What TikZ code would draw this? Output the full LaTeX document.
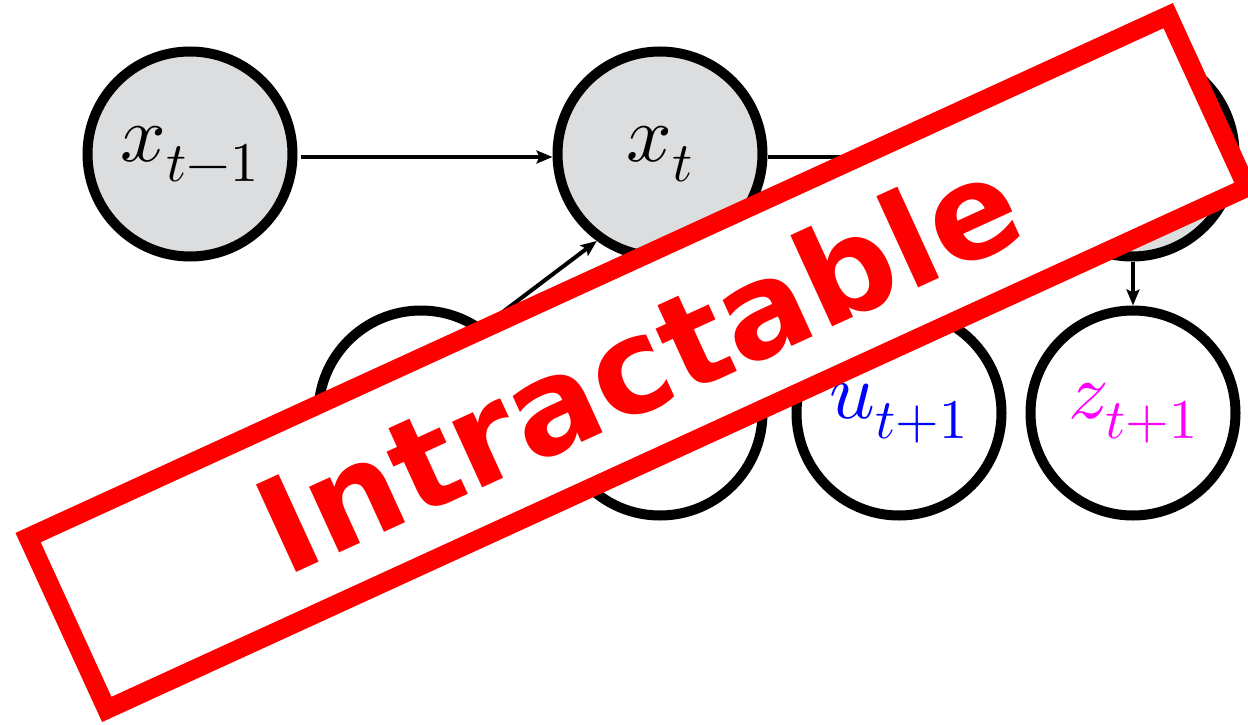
\documentclass[tikz,border=0pt]{standalone}
\usepackage{unicode-math}
\newfontfamily\stampfont{DejaVu Sans}
\usetikzlibrary{arrows.meta}
\definecolor{graynode}{HTML}{DCDDDF}
\definecolor{stampred}{HTML}{FF0000}
\definecolor{zmag}{RGB}{255,0,255}
\definecolor{ublue}{RGB}{0,0,255}
\begin{document}
\begin{tikzpicture}[x=1pt,y=-1pt,
  var/.style={circle, draw=black, line width=10pt, minimum size=205pt, inner sep=0pt, font=\fontsize{80}{96}\selectfont},
  obs/.style={var, fill=graynode},
  edge/.style={line width=4pt, -{Stealth[length=16pt,width=13pt,inset=3pt]}},
  stampbox/.style={draw=stampred, fill=white, line width=19pt, line join=miter, minimum width=1254pt, minimum height=189pt, inner sep=0pt, rotate=24.6, text=stampred, font=\stampfont\bfseries\fontsize{132}{140}\selectfont}
]
\useasboundingbox (0,0) rectangle (1248,725);
\fill[white] (0,0) rectangle (1248,725);
\node[obs] (xprev) at (190,154) {$x_{t-1}$};
\node[obs] (xt) at (660,154) {$x_t$};
\node[obs] (xnext) at (1132,154) {};
\node[var] (a) at (421,413) {};
\node[var] (b) at (660,413) {};
\node[var] (u) at (899,413) {\color{ublue}$u_{t+1}$};
\node[var] (z) at (1133,413) {\color{zmag}$z_{t+1}$};
\draw[edge, shorten <=3pt] ([yshift=-3pt]xprev.east) -- ([yshift=-3pt]xt.west);
\draw[edge] ([yshift=-3pt]xt.east) -- ([yshift=-3pt]xnext.west);
\draw[edge] (a.54) -- (xt.234);
\draw[edge] (z.north |- xnext.south) -- (z.north);
\node[stampbox] (stamp) at (637.5,362.5) {Intractable};
\end{tikzpicture}
\end{document}
